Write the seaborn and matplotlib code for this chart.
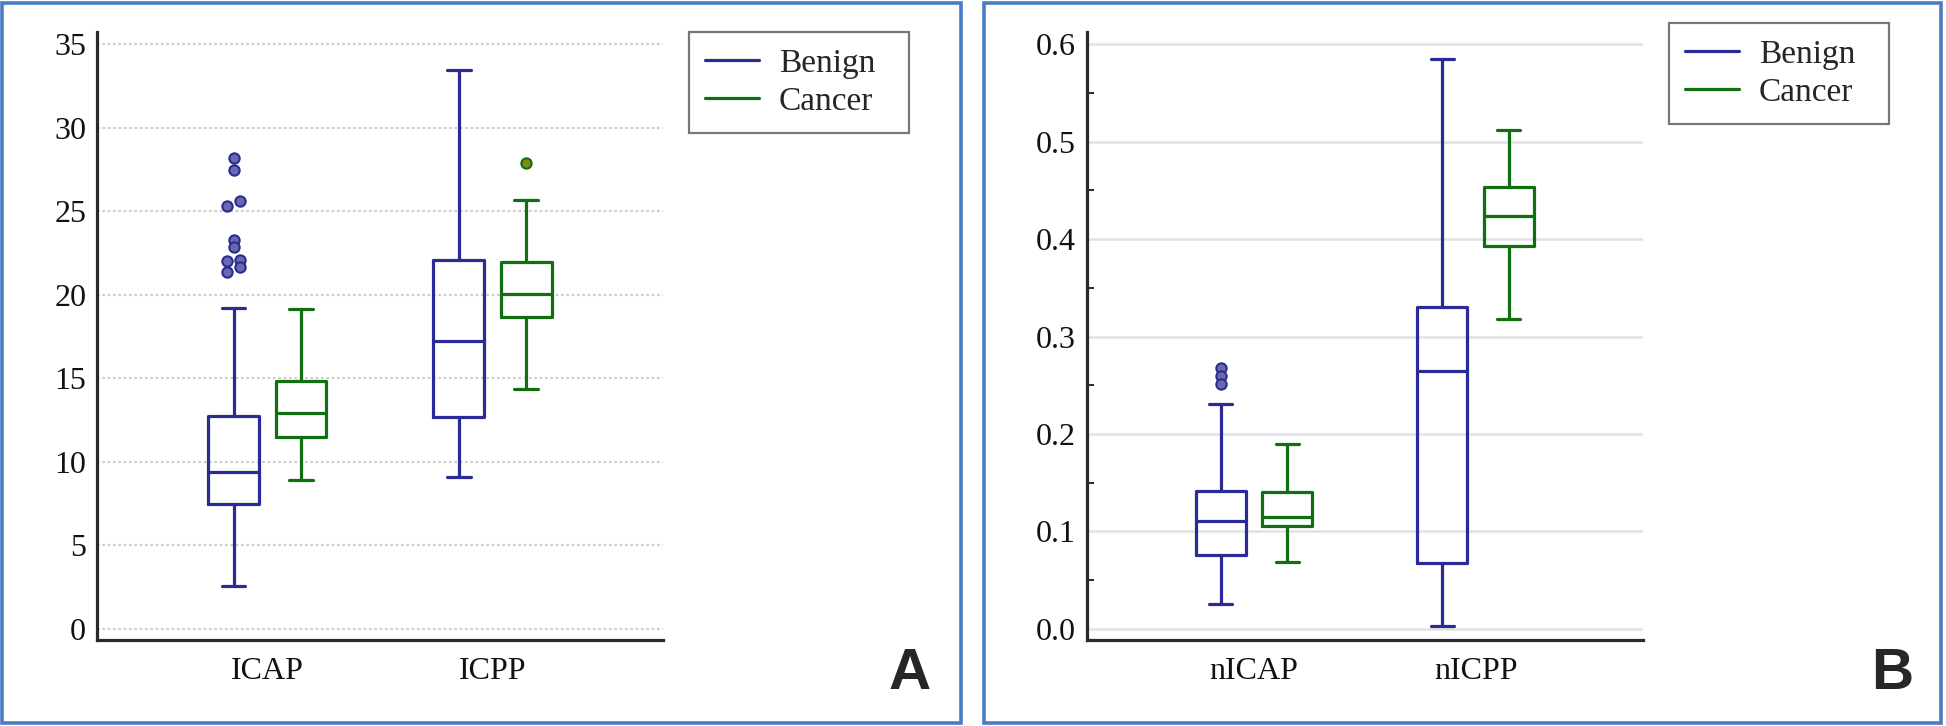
import numpy as np
import pandas as pd
import matplotlib
matplotlib.use("Agg")
import matplotlib.pyplot as plt
from matplotlib.patches import Rectangle
from matplotlib.lines import Line2D
from matplotlib.ticker import MultipleLocator, FormatStrFormatter
import seaborn as sns

# ---------------- data ----------------
groups = ["Benign", "Cancer"]
cats_a = ["ICAP", "ICPP"]
cats_b = ["nICAP", "nICPP"]

# five-number summaries: [lower whisker, Q1, median, Q3, upper whisker]
icap_benign = [2.6, 7.46, 9.4, 12.76, 19.2]
icap_cancer = [8.9, 11.5, 12.92, 14.84, 19.14]
icpp_benign = [9.07, 12.69, 17.21, 22.09, 33.45]
icpp_cancer = [14.38, 18.68, 20.02, 21.98, 25.66]

icap_benign_out = [28.2, 27.46, 25.64, 25.34, 23.3, 22.86, 22.06, 22.0, 21.64, 21.36]
icap_cancer_out = []
icpp_benign_out = []
icpp_cancer_out = [27.91]

nicap_benign = [0.026, 0.0762, 0.111, 0.1416, 0.231]
nicap_cancer = [0.0687, 0.1051, 0.1153, 0.1409, 0.1896]
nicpp_benign = [0.003, 0.0681, 0.2646, 0.330, 0.585]
nicpp_cancer = [0.3179, 0.3926, 0.4235, 0.4535, 0.5125]

nicap_benign_out = [0.268, 0.260, 0.2516]
nicap_cancer_out = []
nicpp_benign_out = []
nicpp_cancer_out = []

# ---------------- styling ----------------
sns.set_theme(style="white")
plt.rcParams["font.family"] = ["Liberation Serif", "DejaVu Serif"]

BLUE = "#2b2b98"
GREEN = "#107010"
FLIER_FILL = {"Benign": "#6a6aaa", "Cancer": "#7f8a10"}
COLORS = {"Benign": BLUE, "Cancer": GREEN}
OFFSETS = {"Benign": -0.15, "Cancer": 0.15}
SPINE = "#2a2a2a"
LW = 2.3

# horizontal spreading of overlapping outliers (-1 left, 0 centre, +1 right)
icap_benign_out_side = [0, 0, 1, -1, 0, 0, 1, -1, 1, -1]

fig = plt.figure(figsize=(19.46, 7.26), dpi=100)
W, H = 1946.0, 726.0


def px_axes(left, right, top, bottom):
    return [left / W, 1 - bottom / H, (right - left) / W, (bottom - top) / H]


def draw_panel(ax, cats, summaries, outliers, sides, ylim, grid_style):
    rows = []
    for g in groups:
        stats, pos = [], []
        for ci, c in enumerate(cats):
            lo, q1, med, q3, hi = summaries[g][ci]
            stats.append(dict(whislo=lo, q1=q1, med=med, q3=q3, whishi=hi, fliers=[]))
            pos.append(ci + OFFSETS[g])
            for k, v in enumerate(outliers[g][ci]):
                side = sides.get((g, ci), [0] * len(outliers[g][ci]))[k]
                rows.append(dict(x=ci + OFFSETS[g] + side * 0.027, y=v, group=g))
        col = COLORS[g]
        lp = dict(color=col, linewidth=LW)
        ax.bxp(stats, positions=pos, widths=0.225, capwidths=0.105,
               showfliers=False, boxprops=lp, medianprops=lp,
               whiskerprops=lp, capprops=lp, manage_ticks=False, zorder=3)
    df = pd.DataFrame(rows, columns=["x", "y", "group"])
    for g in groups:
        sub = df[df["group"] == g]
        if len(sub):
            sns.scatterplot(data=sub, x="x", y="y", ax=ax, s=55,
                            color=FLIER_FILL[g], edgecolor=COLORS[g],
                            linewidth=1.5, legend=False, zorder=4)
    ax.set_xlabel("")
    ax.set_ylabel("")
    ax.set_xlim(-0.755, 1.755)
    ax.set_ylim(*ylim)
    ax.set_xticks(range(len(cats)))
    ax.set_xticklabels(cats)
    for s in ["top", "right"]:
        ax.spines[s].set_visible(False)
    for s in ["left", "bottom"]:
        ax.spines[s].set_color(SPINE)
        ax.spines[s].set_linewidth(LW)
    ax.tick_params(axis="y", which="major", direction="in", length=9, width=1.6,
                   color=SPINE, labelsize=23, pad=8, labelcolor="#111")
    ax.tick_params(axis="x", which="major", direction="in", length=7.5, width=1.6,
                   color=SPINE, labelsize=23, pad=12, labelcolor="#111")
    ax.yaxis.grid(True, **grid_style)
    ax.xaxis.grid(False)
    ax.set_axisbelow(True)
    ax.set_facecolor("white")
    handles = [Line2D([], [], color=COLORS[g], lw=LW) for g in groups]
    return handles


def add_legend(ax, handles, left, right, top, bottom):
    leg = ax.legend(handles, groups, loc="upper left",
                    bbox_to_anchor=(left / W, 1 - bottom / H, (right - left) / W, (bottom - top) / H),
                    bbox_transform=fig.transFigure, mode="expand", borderaxespad=0,
                    frameon=True, fancybox=False, edgecolor="#555555", fontsize=24,
                    borderpad=0.48, handlelength=1.62, handletextpad=0.59,
                    labelspacing=0.22)
    leg.get_frame().set_linewidth(1.6)
    return leg


# ---------------- panel A ----------------
axA = fig.add_axes(px_axes(97.3, 662.5, 31.7, 640.3))
hA = draw_panel(
    axA, cats_a,
    {"Benign": [icap_benign, icpp_benign], "Cancer": [icap_cancer, icpp_cancer]},
    {"Benign": [icap_benign_out, icpp_benign_out], "Cancer": [icap_cancer_out, icpp_cancer_out]},
    {("Benign", 0): icap_benign_out_side},
    (-0.68, 35.75),
    dict(color="#cdcdcd", linestyle=(0, (1.2, 1.2)), linewidth=1.6),
)
axA.yaxis.set_major_locator(MultipleLocator(5))
axA.yaxis.set_major_formatter(FormatStrFormatter("%d"))
add_legend(axA, hA, 689.3, 908.7, 32.3, 132.3)

# ---------------- panel B ----------------
axB = fig.add_axes(px_axes(1086.8, 1642.9, 31.7, 640.3))
hB = draw_panel(
    axB, cats_b,
    {"Benign": [nicap_benign, nicpp_benign], "Cancer": [nicap_cancer, nicpp_cancer]},
    {"Benign": [nicap_benign_out, nicpp_benign_out], "Cancer": [nicap_cancer_out, nicpp_cancer_out]},
    {},
    (-0.0117, 0.6129),
    dict(color="#e2e2e2", linestyle="-", linewidth=1.8),
)
axB.yaxis.set_major_locator(MultipleLocator(0.1))
axB.yaxis.set_minor_locator(MultipleLocator(0.05))
axB.yaxis.set_major_formatter(FormatStrFormatter("%.1f"))
axB.tick_params(axis="y", which="minor", direction="in", length=5, width=1.4, color=SPINE, left=True)
add_legend(axB, hB, 1669.3, 1889.3, 23.3, 124.3)

# ---------------- panel frames and letters ----------------
BORDER = "#4a7cc4"
fig.add_artist(Rectangle((2 / W, 3 / H), (961 - 2) / W, (722.7 - 3) / H,
                         transform=fig.transFigure, fill=False, ec=BORDER, lw=2.6))
fig.add_artist(Rectangle((984 / W, 3 / H), (1940.5 - 984) / W, (722.7 - 3) / H,
                         transform=fig.transFigure, fill=False, ec=BORDER, lw=2.6))
fig.text(910 / W, 1 - 689 / H, "A", ha="center", va="baseline", fontsize=42,
         fontweight="bold", family=["Liberation Sans", "DejaVu Sans"])
fig.text(1892 / W, 1 - 689 / H, "B", ha="center", va="baseline", fontsize=42,
         fontweight="bold", family=["Liberation Sans", "DejaVu Sans"])

fig.savefig("out.png", dpi=100, facecolor="white")
